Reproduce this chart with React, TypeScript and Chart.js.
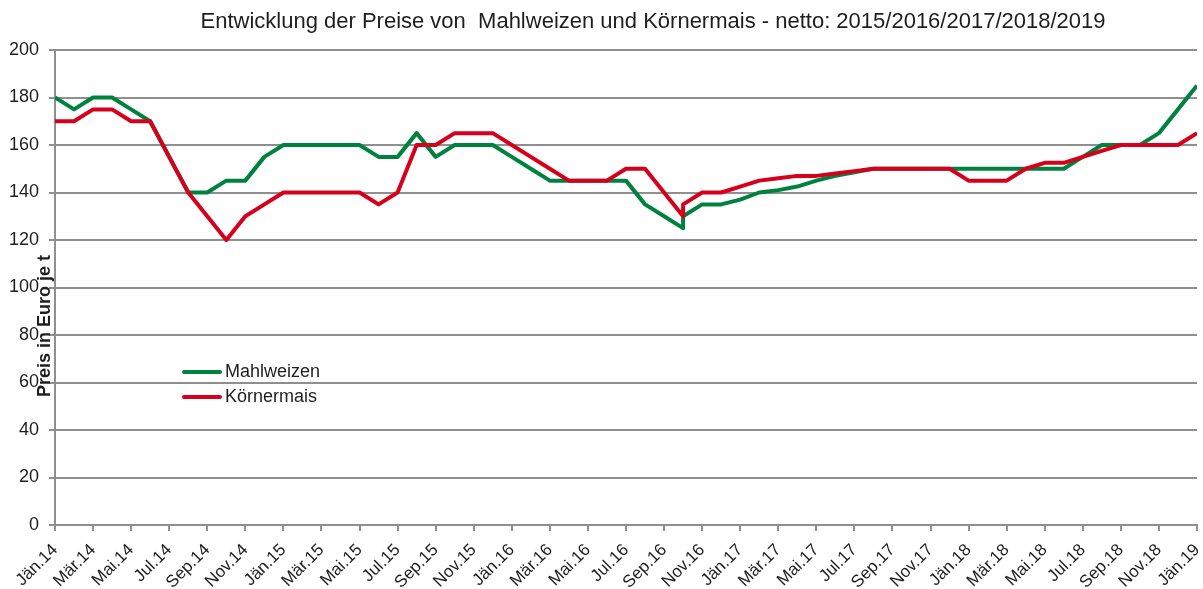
import React, { useEffect, useRef } from "react";
import { Chart, registerables } from "chart.js";

Chart.register(...registerables);

const chartTitle =
  "Entwicklung der Preise von  Mahlweizen und Körnermais - netto: 2015/2016/2017/2018/2019";
const yAxisTitle = "Preis in Euro je t";
const seriesNames = ["Mahlweizen", "Körnermais"];
const seriesColors = ["#00823F", "#D6001C"];

// tick labels every second month (index 0 = Jän.14 ... 60 = Jän.19)
const tickLabels = [
  "Jän.14", "Mär.14", "Mai.14", "Jul.14", "Sep.14", "Nov.14",
  "Jän.15", "Mär.15", "Mai.15", "Jul.15", "Sep.15", "Nov.15",
  "Jän.16", "Mär.16", "Mai.16", "Jul.16", "Sep.16", "Nov.16",
  "Jän.17", "Mär.17", "Mai.17", "Jul.17", "Sep.17", "Nov.17",
  "Jän.18", "Mär.18", "Mai.18", "Jul.18", "Sep.18", "Nov.18",
  "Jän.19",
];

// month index of each observation (Oct.16 has two observations)
const monthIndex = [
  0, 1, 2, 3, 4, 5, 6, 7, 8, 9, 10, 11, 12, 13, 14, 15, 16, 17, 18, 19, 20,
  21, 22, 23, 24, 25, 26, 27, 28, 29, 30, 31, 32, 33, 33, 34, 35, 36, 37, 38,
  39, 40, 41, 42, 43, 44, 45, 46, 47, 48, 49, 50, 51, 52, 53, 54, 55, 56, 57,
  58, 59, 60,
];

const mahlweizen = [
  180, 175, 180, 180, 175, 170, 155, 140, 140, 145, 145, 155, 160, 160, 160,
  160, 160, 155, 155, 165, 155, 160, 160, 160, 155, 150, 145, 145, 145, 145,
  145, 135, 130, 125, 130, 135, 135, 137, 140, 141, 142.5, 145, 147, 148.5,
  150, 150, 150, 150, 150, 150, 150, 150, 150, 150, 150, 155, 160, 160, 160,
  165, 175, 185,
];

const koernermais = [
  170, 170, 175, 175, 170, 170, 155, 140, 130, 120, 130, 135, 140, 140, 140,
  140, 140, 135, 140, 160, 160, 165, 165, 165, 160, 155, 150, 145, 145, 145,
  150, 150, 140, 130, 135, 140, 140, 142.5, 145, 146, 147, 147, 148, 149,
  150, 150, 150, 150, 150, 145, 145, 145, 150, 152.5, 152.5, 155, 157.5, 160,
  160, 160, 160, 165,
];

const yMin = 0;
const yMax = 200;
const yStep = 20;

const FONT = "'Liberation Sans', Arial, sans-serif";
const GRID = "#8f8f8f";
const TEXT = "#1e1e1e";

const overlayPlugin = {
  id: "overlay",
  afterDraw(chart: any) {
    const ctx = chart.ctx;
    const area = chart.chartArea;
    ctx.save();
    // title
    ctx.fillStyle = TEXT;
    ctx.font = `22px ${FONT}`;
    ctx.textAlign = "center";
    ctx.textBaseline = "alphabetic";
    ctx.fillText(chartTitle, 653, 28);
    // y axis title
    ctx.save();
    ctx.translate(45, 326);
    ctx.rotate(-Math.PI / 2);
    ctx.font = `bold 18px ${FONT}`;
    ctx.textAlign = "center";
    ctx.textBaseline = "middle";
    ctx.fillText(yAxisTitle, 0, 0);
    ctx.restore();
    // legend
    const lx = area.left + 129;
    const ly = [372, 397];
    chart.data.datasets.forEach((ds: any, i: number) => {
      ctx.strokeStyle = ds.borderColor;
      ctx.lineWidth = 4;
      ctx.lineCap = "round";
      ctx.beginPath();
      ctx.moveTo(lx, ly[i]);
      ctx.lineTo(lx + 36, ly[i]);
      ctx.stroke();
      ctx.fillStyle = TEXT;
      ctx.font = `18px ${FONT}`;
      ctx.textAlign = "left";
      ctx.textBaseline = "middle";
      ctx.fillText(ds.label, lx + 41, ly[i]);
    });
    ctx.restore();
  },
};

export default function App() {
  const ref = useRef<HTMLCanvasElement | null>(null);

  useEffect(() => {
    if (!ref.current) return;
    const toPoints = (vals: number[]) =>
      vals.map((v, k) => ({ x: monthIndex[k], y: v }));
    const chart = new Chart(ref.current, {
      type: "line",
      data: {
        datasets: [
          {
            label: seriesNames[0],
            data: toPoints(mahlweizen),
            borderColor: seriesColors[0],
            backgroundColor: seriesColors[0],
            borderWidth: 4,
            pointRadius: 0,
            tension: 0,
            borderJoinStyle: "round",
            order: 2,
          },
          {
            label: seriesNames[1],
            data: toPoints(koernermais),
            borderColor: seriesColors[1],
            backgroundColor: seriesColors[1],
            borderWidth: 4,
            pointRadius: 0,
            tension: 0,
            borderJoinStyle: "round",
            order: 1,
          },
        ],
      },
      options: {
        animation: false,
        responsive: false,
        maintainAspectRatio: false,
        layout: { padding: { top: 50, right: 6, left: 0, bottom: 0 } },
        plugins: {
          legend: { display: false },
          title: { display: false },
          tooltip: { enabled: false },
        },
        scales: {
          x: {
            type: "linear",
            min: 0,
            max: 60,
            afterBuildTicks(scale: any) {
              scale.ticks = tickLabels.map((_, i) => ({ value: i * 2 }));
            },
            afterFit(scale: any) {
              scale.height = 64;
              scale.paddingLeft = 0;
              scale.paddingRight = 0;
            },
            ticks: {
              autoSkip: false,
              minRotation: 45,
              maxRotation: 45,
              padding: 9,
              color: TEXT,
              font: { family: FONT, size: 17 },
              callback: (v: any) => tickLabels[Math.round(Number(v) / 2)] ?? "",
            },
            grid: {
              drawOnChartArea: false,
              drawTicks: true,
              tickLength: 6,
              color: GRID,
              lineWidth: 2,
            },
            border: { display: true, color: GRID, width: 2 },
          },
          y: {
            min: yMin,
            max: yMax,
            afterFit(scale: any) {
              scale.width = 55;
              scale.paddingTop = 0;
              scale.paddingBottom = 0;
            },
            ticks: {
              stepSize: yStep,
              padding: 10,
              color: TEXT,
              font: { family: FONT, size: 18 },
            },
            grid: {
              color: GRID,
              lineWidth: 2,
              tickLength: 6,
            },
            border: { display: true, color: GRID, width: 2 },
          },
        },
      },
      plugins: [overlayPlugin],
    } as any);
    return () => chart.destroy();
  }, []);

  return (
    <div style={{ position: "fixed", left: 0, top: 0, width: 1203, height: 589, background: "#fff" }}>
      <canvas ref={ref} width={1203} height={589} style={{ width: 1203, height: 589 }} />
    </div>
  );
}
